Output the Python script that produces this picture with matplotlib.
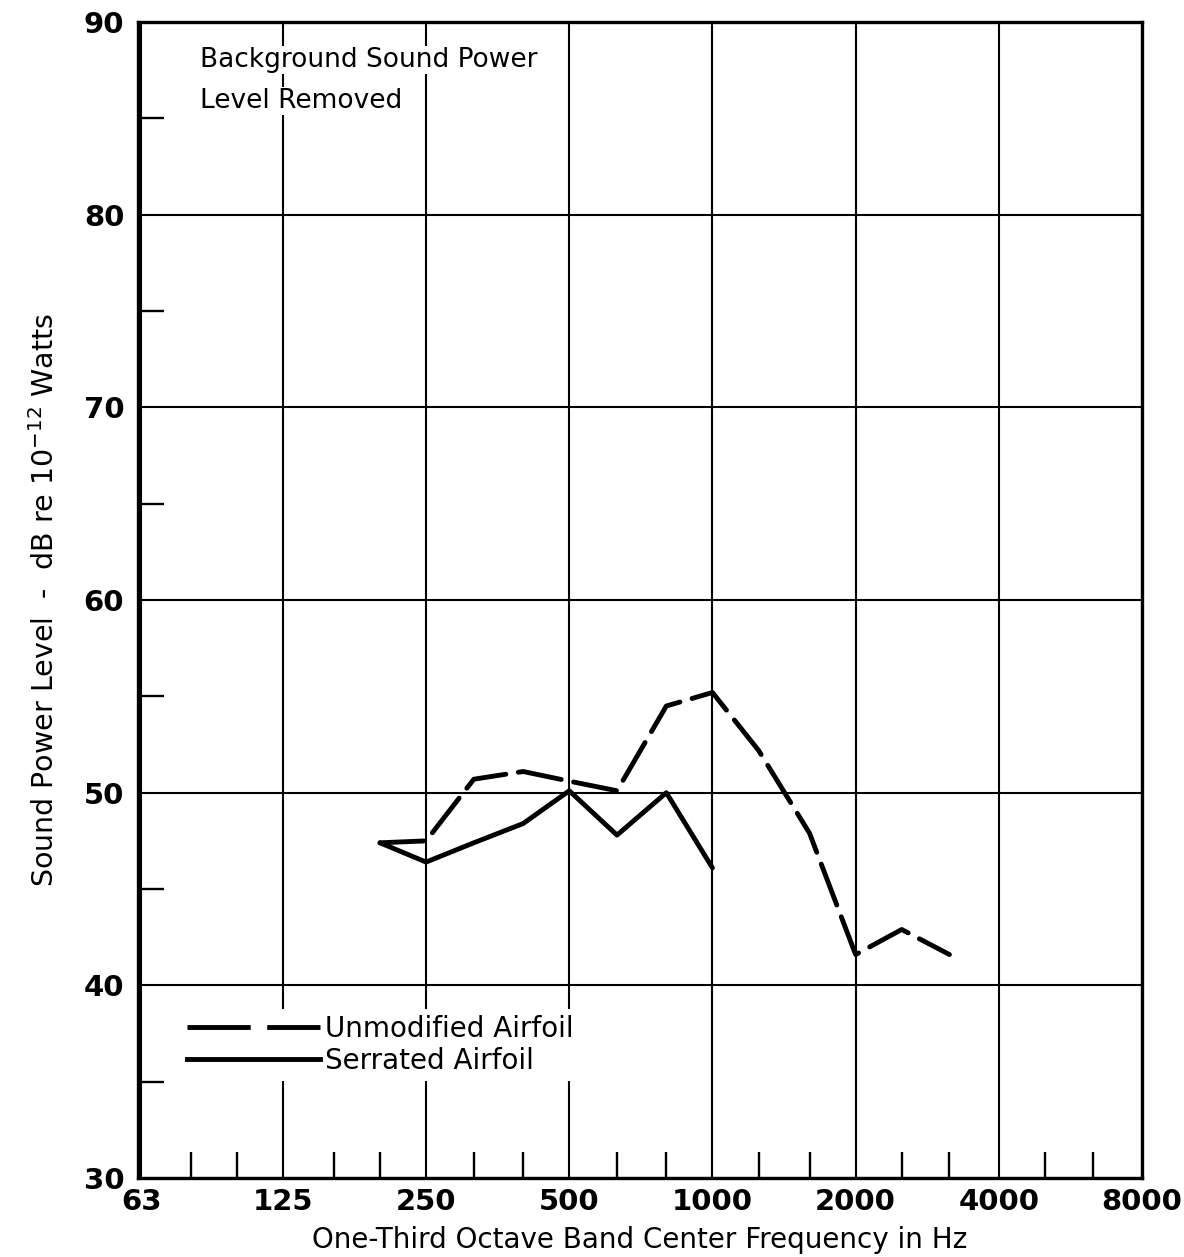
import matplotlib
matplotlib.use("Agg")
import matplotlib.pyplot as plt
from matplotlib.lines import Line2D
from matplotlib.ticker import FixedLocator, NullFormatter

# One-third octave band centre frequencies (Hz)
freq_unmod = [200, 250, 315, 400, 500, 630, 800, 1000, 1250, 1600, 2000, 2500, 3150]
level_unmod = [47.4, 47.5, 50.7, 51.1, 50.6, 50.1, 54.5, 55.2, 52.2, 47.9, 41.6, 42.9, 41.6]

freq_serr = [200, 250, 315, 400, 500, 630, 800, 1000]
level_serr = [47.4, 46.4, 47.4, 48.4, 50.1, 47.8, 50.0, 46.1]

octave_ticks = [63, 125, 250, 500, 1000, 2000, 4000, 8000]
third_octave_minor = [80, 100, 160, 200, 315, 400, 630, 800, 1250, 1600,
                      2500, 3150, 5000, 6300]
y_major = [30, 40, 50, 60, 70, 80, 90]
y_minor = [35, 45, 55, 65, 75, 85]

plt.rcParams["font.family"] = ["DejaVu Sans"]
narrow = ["DejaVu Sans Condensed", "DejaVu Sans"]

fig = plt.figure(figsize=(11.84, 12.57), dpi=100)
ax = fig.add_axes([0.1166, 0.0628, 0.8479, 0.9197])

ax.plot(freq_unmod, level_unmod, color="black", lw=3.5,
        dashes=(9, 2.6), dash_capstyle="round",
        solid_joinstyle="round", zorder=3)
ax.plot(freq_serr, level_serr, color="black", lw=3.5,
        solid_capstyle="round", solid_joinstyle="round", zorder=3)

ax.set_xscale("log")
ax.set_xlim(62, 8000)
ax.set_ylim(30, 90)

ax.xaxis.set_major_locator(FixedLocator(octave_ticks))
ax.xaxis.set_minor_locator(FixedLocator(third_octave_minor))
ax.xaxis.set_minor_formatter(NullFormatter())
ax.set_xticklabels([str(f) for f in octave_ticks])
ax.yaxis.set_major_locator(FixedLocator(y_major))
ax.yaxis.set_minor_locator(FixedLocator(y_minor))

ax.grid(True, which="major", color="black", lw=1.5)
ax.set_axisbelow(True)
for sp in ax.spines.values():
    sp.set_linewidth(2.4)

ax.tick_params(which="major", length=0)
ax.tick_params(axis="x", which="major", pad=7)
ax.tick_params(axis="y", which="major", pad=10)
for lab in ax.get_xticklabels() + ax.get_yticklabels():
    lab.set_family(narrow)
    lab.set_fontweight("bold")
    lab.set_fontsize(21)
ax.tick_params(which="minor", direction="in", length=19, width=1.7,
               top=False, right=False)

ax.set_xlabel("One-Third Octave Band Center Frequency in Hz", fontsize=20,
              labelpad=7)
ax.set_ylabel(r"Sound Power Level  -  dB re 10$^{-12}$ Watts", fontsize=20.5,
              labelpad=17)

# note in the upper left corner
note_box = dict(facecolor="white", edgecolor="none", pad=1)
ax.text(0.0618, 0.961, "Background Sound Power", transform=ax.transAxes,
        fontsize=19, va="baseline", ha="left", bbox=note_box, zorder=2)
ax.text(0.0618, 0.9256, "Level Removed", transform=ax.transAxes,
        fontsize=19, va="baseline", ha="left", bbox=note_box, zorder=2)

handles = [
    Line2D([], [], color="black", lw=3.5, dashes=(13, 3.4)),
    Line2D([], [], color="black", lw=3.5),
]
leg = ax.legend(handles, ["Unmodified Airfoil", "Serrated Airfoil"],
                loc="upper left", bbox_to_anchor=(0.043, 0.146),
                fontsize=20, handlelength=4.8, handletextpad=0.17,
                labelspacing=0.15, borderpad=0.2, borderaxespad=0,
                frameon=True, fancybox=False)
leg.get_frame().set_edgecolor("none")
leg.get_frame().set_facecolor("white")
leg.get_frame().set_alpha(1)

fig.savefig("out.png", dpi=100)
